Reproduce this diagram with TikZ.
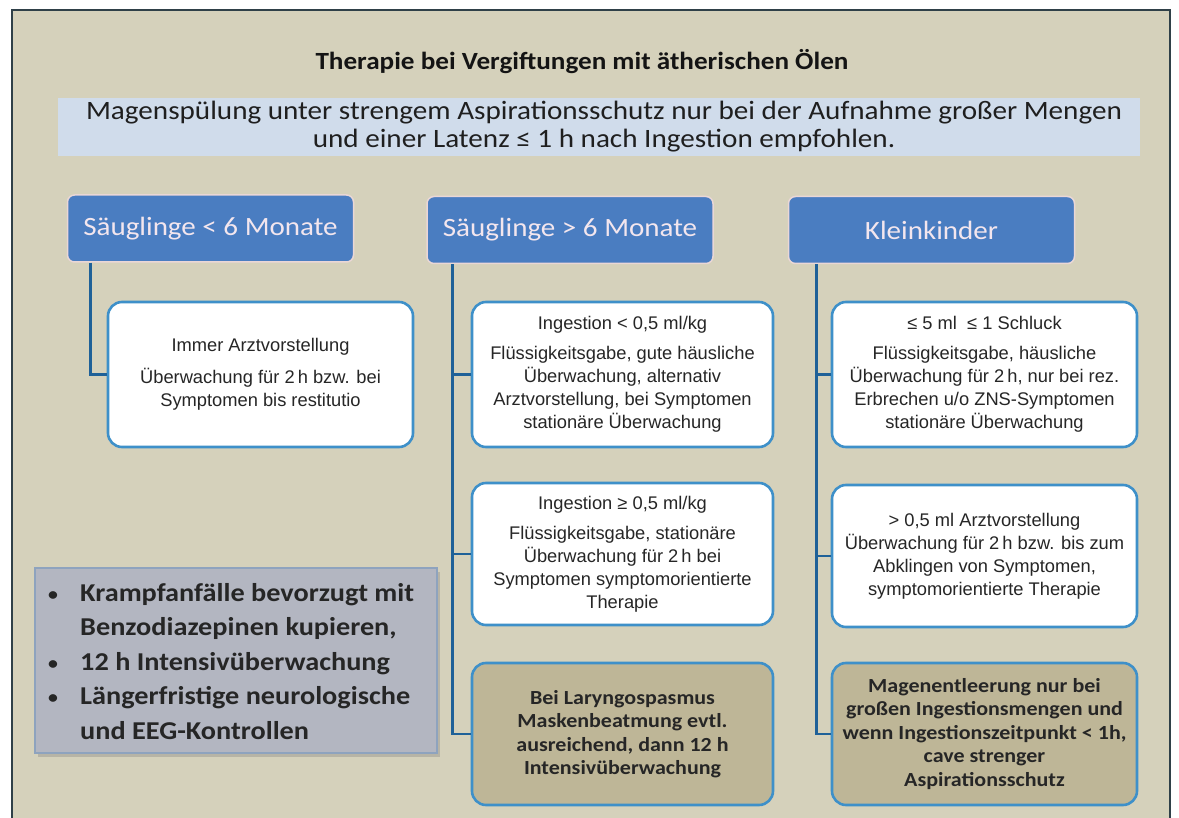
\documentclass[tikz,border=0pt]{standalone}
\usepackage{fontspec}
\setmainfont{Liberation Sans}
\newfontfamily\calfont[FakeStretch=1.1]{Carlito}
\usetikzlibrary{shadows}
\definecolor{bgbeige}{HTML}{D5D1BB}
\definecolor{bandblue}{HTML}{D0DCEB}
\definecolor{hdrblue}{HTML}{4A7DC1}
\definecolor{hdrtext}{HTML}{F3E6EE}
\definecolor{hdredge}{HTML}{EAD7D6}
\definecolor{linkblue}{HTML}{1F6198}
\definecolor{boxedge}{HTML}{3E90C9}
\definecolor{tanfill}{HTML}{BEB697}
\definecolor{grayfill}{HTML}{B3B6C1}
\definecolor{grayedge}{HTML}{8EA3BE}
\definecolor{frameclr}{HTML}{2F4048}
\definecolor{darktext}{HTML}{262626}
\tikzset{
  hdrbox/.style={draw=hdredge, line width=1.5pt, fill=hdrblue, rounded corners=7pt,
    minimum width=286pt, minimum height=67pt, inner sep=0pt, text=hdrtext,
    font=\calfont\fontsize{26.4}{28}\selectfont},
  whitebox/.style={draw=boxedge, line width=2.6pt, fill=white, rounded corners=14pt,
    minimum height=145pt, inner sep=0pt, align=center, text=black!85,
    font=\fontsize{18.3}{23}\selectfont},
  tanbox/.style={draw=boxedge, line width=2.6pt, fill=tanfill, rounded corners=14pt,
    minimum width=301pt, minimum height=142pt, inner sep=0pt, align=center, text=darktext,
    font=\calfont\bfseries\fontsize{20}{23.5}\selectfont},
  link/.style={draw=linkblue, line width=2.6pt},
}
\newcommand{\grbullet}{\makebox[32pt][l]{\raisebox{1pt}{\scalebox{0.7}{•}}}}
\begin{document}
\begin{tikzpicture}[x=1pt,y=-1pt]
\useasboundingbox (0,0) rectangle (1179,818);
\fill[white] (0,0) rectangle (1179,818);
\fill[bgbeige] (12,10) rectangle (1170,830);
\draw[frameclr, line width=2.6pt] (12,830) -- (12,10) -- (1170,10) -- (1170,830);

% title
\node[font=\calfont\bfseries\fontsize{24.7}{28}\selectfont, text=black!92] (title) at (582,62)
  {Therapie bei Vergiftungen mit ätherischen Ölen};

% band
\node[fill=bandblue, minimum width=1082pt, minimum height=58pt, inner sep=0pt] (band) at (599,127) {};
\node[inner sep=0pt, align=center,
  font=\calfont\fontsize{26.5}{28}\selectfont, text=black!88] (bandtext) at (604,127)
  {Magenspülung unter strengem Aspirationsschutz nur bei der Aufnahme großer Mengen\\
   und einer Latenz ≤ 1 h nach Ingestion empfohlen.};

% headers
\node[hdrbox] (h1) at (210.5,228.5) {Säuglinge < 6 Monate};
\node[hdrbox] (h2) at (570,230) {Säuglinge > 6 Monate};
\node[hdrbox] (h3) at (931.5,230) {Kleinkinder};

% column 1
\node[whitebox, minimum width=305pt] (w1) at (260.5,374.5)
  {Immer Arztvorstellung\\[9pt]Überwachung für 2\,h bzw. bei\\Symptomen bis restitutio};

% column 2
\node[whitebox, minimum width=301pt] (w2a) at (622.5,374.5)
  {Ingestion < 0,5 ml/kg\\[7pt]Flüssigkeitsgabe, gute häusliche\\Überwachung, alternativ\\Arztvorstellung, bei Symptomen\\stationäre Überwachung};
\node[whitebox, minimum width=301pt, minimum height=142pt] (w2b) at (622.5,554)
  {Ingestion ≥ 0,5 ml/kg\\[7pt]Flüssigkeitsgabe, stationäre\\Überwachung für 2\,h bei\\Symptomen symptomorientierte\\Therapie};
\node[tanbox] (t2) at (622.5,734)
  {Bei Laryngospasmus\\Maskenbeatmung evtl.\\ausreichend, dann 12 h\\Intensivüberwachung};

% column 3
\node[whitebox, minimum width=305pt] (w3a) at (984.5,374.5)
  {≤ 5 ml\ \ ≤ 1 Schluck\\[7pt]Flüssigkeitsgabe, häusliche\\Überwachung für 2\,h, nur bei rez.\\Erbrechen u/o ZNS-Symptomen\\stationäre Überwachung};
\node[whitebox, minimum width=305pt, minimum height=142pt] (w3b) at (984.5,556)
  {> 0,5 ml Arztvorstellung\\Überwachung für 2\,h bzw. bis zum\\Abklingen von Symptomen,\\symptomorientierte Therapie};
\node[tanbox, minimum width=305pt] (t3) at (984.5,734)
  {Magenentleerung nur bei\\großen Ingestionsmengen und\\wenn Ingestionszeitpunkt < 1h,\\cave strenger\\Aspirationsschutz};

% gray box
\node[draw=grayedge, line width=1.6pt, fill=grayfill, minimum width=402pt, minimum height=185pt,
  inner sep=0pt, drop shadow={shadow xshift=3pt, shadow yshift=-4pt, opacity=.35}] (g) at (236,660.5) {};
\node[anchor=north west, inner sep=0pt, align=left, text=darktext,
  font=\calfont\bfseries\fontsize{25.7}{34.5}\selectfont] (gtext) at (48,583)
  {\grbullet Krampfanfälle bevorzugt mit\\
   \makebox[32pt][l]{}Benzodiazepinen kupieren,\\
   \grbullet 12 h Intensivüberwachung\\
   \grbullet Längerfristige neurologische\\
   \makebox[32pt][l]{}und EEG-Kontrollen};

% connectors
\draw[link] ([xshift=24pt]h1.south west) |- (w1.west);
\draw[link] ([xshift=26pt]h2.south west) |- (w2a.west);
\draw[link] ([xshift=26pt]h2.south west) |- (w2b.west);
\draw[link] ([xshift=26pt]h2.south west) |- (t2.west);
\draw[link] ([xshift=29pt]h3.south west) |- (w3a.west);
\draw[link] ([xshift=29pt]h3.south west) |- (w3b.west);
\draw[link] ([xshift=29pt]h3.south west) |- (t3.west);
\end{tikzpicture}
\end{document}
